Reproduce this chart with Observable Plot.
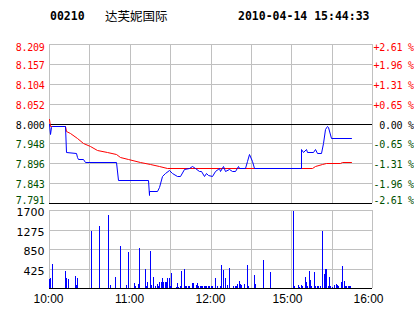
<!DOCTYPE html>
<html><head><meta charset="utf-8">
<script src="https://cdn.jsdelivr.net/npm/d3@7"></script>
<script src="https://cdn.jsdelivr.net/npm/@observablehq/plot@0.6"></script>
<style>
body{margin:0;background:#fff;}
#wrap{position:relative;width:414px;height:314px;overflow:hidden;background:#fff;}
#title span{position:absolute;top:9px;white-space:nowrap;line-height:14px;color:#000;}
.mono{font-family:"DejaVu Sans Mono",monospace;font-weight:bold;font-size:11.5px;}
.cjk{font-family:"Noto Sans CJK SC",sans-serif;font-size:12.5px;}
#price,#vol{position:absolute;left:0;}
#price{top:36px;} #vol{top:205px;}
#price text{letter-spacing:-0.25px;}
svg{overflow:visible;}
</style></head><body>
<div id="wrap">
 <div id="title"><span id="code" class="mono" style="left:50px"></span><span id="name" class="cjk" style="left:105px"></span><span id="stamp" class="mono" style="left:238px"></span></div>
 <div id="price"></div><div id="vol"></div>
</div>
<script>
// ---- data ----
const stockCode = "00210";
const stockName = "达芙妮国际";
const stamp = "2010-04-14 15:44:33";
const prevClose = 8.000;
const priceTicks = [8.209, 8.157, 8.104, 8.052, 8.000, 7.948, 7.896, 7.843, 7.791];
const pctLabels = ["+2.61 %", "+1.96 %", "+1.31 %", "+0.65 %", " 0.00 %", "-0.65 %", "-1.31 %", "-1.96 %", "-2.61 %"];
const volTicks = [425, 850, 1275, 1700];
// minutes of trading since 10:00 (lunch 12:30-14:30 removed)
const timeTickMin = [0, 60, 120, 180, 240];
const timeTickLabels = ["10:00", "11:00", "12:00", "15:00", "16:00"];
const gridMin = [0, 30, 60, 90, 120, 150, 180, 210, 240];

const priceMin = [0,0.4,1.2,2,12,13,20,20.6,21.6,25.3,26.5,49.9,51,73.2,74,74.5,80.2,81.4,83.9,86,88.9,91.4,95,97.5,100.5,103.7,106,108.7,111.2,113,115,116.7,118.2,121,123.6,126,127,129,131,133.5,136,138.5,140.2,141,146,147.2,148.9,150.9,152,187,187.4,189,190.6,192,196.3,197.5,199.3,201.8,203.5,204.8,206.2,207.5,209.2,224.1];
const priceVal = [8.000,7.972,7.990,7.994,7.994,7.924,7.922,7.911,7.906,7.906,7.900,7.900,7.851,7.851,7.812,7.823,7.823,7.832,7.862,7.870,7.877,7.869,7.862,7.862,7.880,7.884,7.888,7.882,7.874,7.875,7.862,7.871,7.864,7.862,7.875,7.882,7.874,7.888,7.874,7.880,7.875,7.874,7.889,7.882,7.882,7.902,7.921,7.902,7.882,7.882,7.9325,7.924,7.9325,7.924,7.924,7.9325,7.9225,7.9225,7.950,7.985,7.994,7.990,7.961,7.961];

const avgMin = [0,0.5,12,12.6,15.6,20.6,25.5,30.5,35.5,43,49.9,52.9,59,67.8,75.2,81.4,87.6,195.6,198,203,206,216,218,224.1];
const avgVal = [8.011,7.994,7.994,7.981,7.975,7.961,7.950,7.940,7.931,7.924,7.921,7.911,7.906,7.900,7.893,7.887,7.884,7.884,7.887,7.893,7.896,7.896,7.899,7.899];

const volMin = [0,1,2,12,13,14,19,20,21,31,37,44,45,49,53,57,59,63,64,66,67,71,72,73,75,76,77,79,80,81,82,83,84,85,86,87,88,89,90,91,94,95,96,97,98,100,101,102,103,104,106,107,109,110,111,112,113,114,115,116,117,118,119,120,121,123,125,127,128,129,131,132,134,137,138,139,140,141,142,143,145,147,148,152,153,159,164,181,182,185,186,187,188,190,191,192,193,194,195,197,198,199,200,201,203,204,205,206,207,208,209,210,212,213,214,215,217,218,219,220,221,222,223,224];
const volVal = [200,210,516,370,225,200,260,60,225,1240,1350,1590,60,240,915,60,785,110,50,90,870,415,50,140,805,60,240,50,80,50,130,130,210,130,130,130,210,210,50,320,30,100,30,50,370,415,50,45,45,45,100,100,60,100,50,45,45,45,45,45,45,45,45,45,45,210,45,45,500,390,210,60,440,45,45,45,80,150,80,60,80,500,50,280,90,610,350,1680,50,60,30,60,50,240,120,50,370,170,50,340,50,45,45,45,1240,300,415,415,50,240,50,30,60,80,60,50,130,480,160,45,45,45,45,45];

// ---- build ----
document.getElementById("code").textContent = stockCode;
document.getElementById("name").textContent = stockName;
document.getElementById("stamp").textContent = stamp;

const RED = "#ff0000", GREEN = "#005000", BLUE = "#0000ff", GRID = "#c0c0c0";
const colorFor = v => v > prevClose + 1e-9 ? RED : (v < prevClose - 1e-9 ? GREEN : "#000000");
const priceData = priceMin.map((m, i) => ({m, p: priceVal[i]}));
const avgData = avgMin.map((m, i) => ({m, p: avgVal[i]}));
const volData = volMin.map((m, i) => ({m, v: volVal[i]}));
const tickData = priceTicks.map((v, i) => ({v, pct: pctLabels[i], c: colorFor(v)}));
const midT = tickData.slice(1, -1), topT = tickData.slice(0, 1), botT = tickData.slice(-1);
const timeData = timeTickMin.map((m, i) => ({m, label: timeTickLabels[i]}));

const W = 414, ML = 49, MR = 42;
const monoFont = "DejaVu Sans Mono, monospace";

function labelMarks(arr, dy) {
  return [
    Plot.text(arr, {x: d => 0, y: "v", text: d => d.v.toFixed(3), fill: "c", textAnchor: "end", dx: -5, dy, fontFamily: monoFont, fontSize: 10}),
    Plot.text(arr, {x: d => 240, y: "v", text: "pct", fill: "c", textAnchor: "start", dx: 1, dy, fontFamily: monoFont, fontSize: 10})
  ];
}

const price = Plot.plot({
  width: W, height: 172, marginLeft: ML, marginRight: MR, marginTop: 8, marginBottom: 5,
  x: {domain: [0, 240], axis: null, round: true},
  y: {domain: [priceTicks[priceTicks.length - 1], priceTicks[0]], axis: null, round: true},
  color: {type: "identity"},
  style: {background: "transparent", overflow: "visible"},
  marks: [
    Plot.ruleY(priceTicks.filter(v => v !== prevClose), {stroke: GRID}),
    Plot.ruleX(gridMin, {stroke: GRID}),
    Plot.ruleY([prevClose], {stroke: "#000"}),
    Plot.ruleY([priceTicks[priceTicks.length - 1]], {stroke: "#000"}),
    Plot.line(avgData, {x: "m", y: "p", stroke: RED, strokeWidth: 1}),
    Plot.line(priceData, {x: "m", y: "p", stroke: BLUE, strokeWidth: 1}),
    ...labelMarks(midT, 1),
    ...labelMarks(topT, 3),
    ...labelMarks(botT, -3)
  ]
});
document.getElementById("price").appendChild(price);

const vol = Plot.plot({
  width: W, height: 109, marginLeft: ML, marginRight: MR, marginTop: 5, marginBottom: 26,
  x: {domain: [0, 240], axis: null, round: true},
  y: {domain: [0, volTicks[volTicks.length - 1]], axis: null, round: true},
  style: {background: "transparent", overflow: "visible"},
  marks: [
    Plot.ruleY(volTicks, {stroke: GRID}),
    Plot.ruleX(gridMin, {stroke: GRID}),
    Plot.ruleX(volData, {x: "m", y1: d => 0, y2: "v", stroke: BLUE}),
    Plot.ruleY([0], {stroke: "#000"}),
    Plot.text(volTicks, {x: d => 0, y: d => d, text: d => String(d), textAnchor: "end", dx: -5, dy: 2, fontFamily: "DejaVu Sans, sans-serif", fontSize: 11, fill: "#000"}),
    Plot.text(timeData.slice(0, 3), {x: "m", y: d => 0, text: "label", dx: -1, dy: 11, fontFamily: "Liberation Sans, Arial, sans-serif", fontSize: 12, fill: "#000"}),
    Plot.text(timeData.slice(3), {x: "m", y: d => 0, text: "label", dx: -4, dy: 11, fontFamily: "Liberation Sans, Arial, sans-serif", fontSize: 12, fill: "#000"})
  ]
});
document.getElementById("vol").appendChild(vol);
</script>
</body></html>
